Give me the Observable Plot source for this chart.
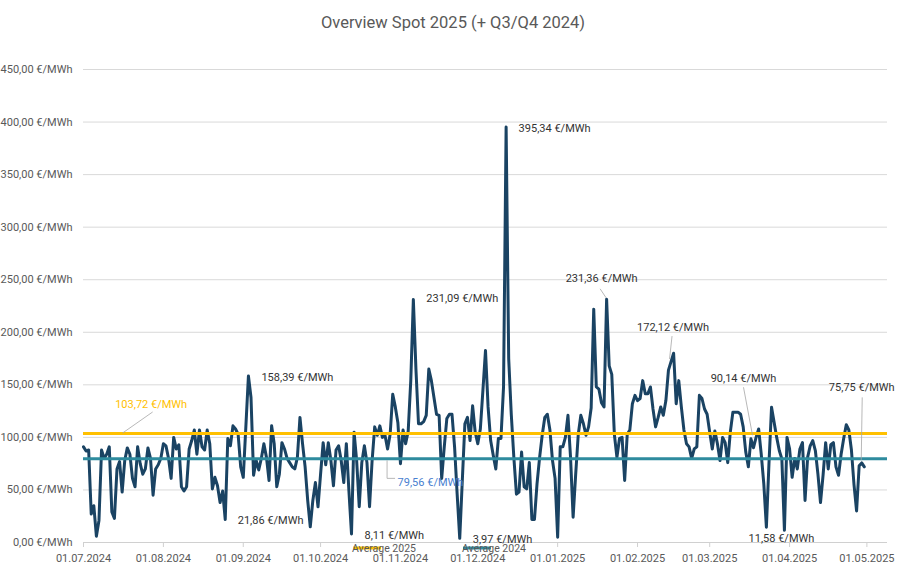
<!DOCTYPE html>
<html><head><meta charset="utf-8">
<script src="https://cdn.jsdelivr.net/npm/d3@7"></script>
<script src="https://cdn.jsdelivr.net/npm/@observablehq/plot@0.6"></script>
<style>
body{margin:0;background:#fff;font-family:Roboto,sans-serif;}
#chart{width:906px;height:569px;}
</style></head><body><div id="chart"></div>
<script>
// Daily spot prices (€/MWh), 01.07.2024 – 30.04.2025
const jul = [91, 87, 88, 27, 35, 6, 21, 88, 80, 84, 91, 29, 23, 70, 77, 48, 78, 90, 84, 61, 53, 91, 75, 65, 70, 90, 80, 45, 70, 74, 80];
const aug = [94, 92, 80, 61, 100, 89, 93, 53, 49, 53, 89, 97, 107, 84, 107, 91, 88, 107, 94, 51, 62, 54, 38, 49, 21.86, 99, 92, 111, 108, 103, 72];
const sep = [62, 110, 158.39, 138, 64, 78, 69, 80, 94, 81, 59, 111, 94, 53, 65, 95, 89, 80, 76, 72, 70, 81, 119, 94, 72, 40, 15, 40, 57, 34];
const oct = [65, 95, 74, 95, 78, 54, 88, 92, 78, 57, 94, 49, 8.11, 105, 78, 34, 76, 92, 76, 34, 78, 110, 102, 111, 100, 102, 89, 103, 141, 129, 114];
const nov = [75, 107, 94, 106, 154, 231.09, 165, 113, 113, 115, 121, 165, 154, 138, 122, 121, 61, 91, 118, 122, 122, 91, 46, 3.97, 59, 113, 119, 97, 130, 105];
const dec = [94, 108, 145, 182.7, 129, 97, 83, 70, 99, 99, 148, 395.34, 175, 122, 81, 46, 48, 86, 53, 51, 76, 22, 22, 56, 81, 102, 119, 122, 107, 78, 61];
const jan = [5, 91, 91, 100, 121, 81, 24, 65, 103, 121, 113, 102, 110, 128, 222, 148, 146, 133, 129, 231.36, 168, 160, 103, 81, 99, 100, 59, 103, 107, 132, 140];
const feb = [135, 137, 154, 141.5, 141.5, 148, 127, 110, 119, 129, 121, 135, 164, 172.12, 180, 132, 154, 129, 107, 94, 91, 80, 89, 91, 140, 137, 127, 122];
const mar = [105, 89, 106, 94, 78, 100, 95, 76, 105, 124, 124, 124, 122, 110, 86, 72, 98.6, 90.14, 100, 108, 84, 55.8, 14.6, 75, 128.7, 114.5, 100, 87.5, 79.6, 11.58, 100];
const apr = [89, 62, 80, 70, 89, 95, 40, 81, 92, 97, 87.5, 65, 38, 64, 95, 70, 93, 95, 72, 64, 84, 99, 112, 107, 88, 55, 30, 73, 75.75, 72];

const startDate = "2024-07-01";
const avg2025 = 103.72;
const avg2024 = 79.56;
const yTicks = [0, 50, 100, 150, 200, 250, 300, 350, 400, 450];
const xTicks = ["2024-07-01","2024-08-01","2024-09-01","2024-10-01","2024-11-01","2024-12-01","2025-01-01","2025-02-01","2025-03-01","2025-04-01","2025-05-01"];
const xDomain = ["2024-07-01", "2025-05-09"];
const labelDates = ["2024-09-03","2024-11-06","2024-12-12","2025-01-20","2025-02-14","2025-03-18","2025-04-29","2024-08-25","2024-10-13","2024-11-24","2025-03-30"];
const avgLabelDates = ["2024-07-16", "2024-10-27"];
const title = "Overview Spot 2025 (+ Q3/Q4 2024)";
const legendNames = ["Average 2025", "Average 2024"];

// layout (offsets in px)
const labelLayout = [
  {dx:13, dy:1.5, anchor:"start"},
  {dx:13, dy:-1, anchor:"start"},
  {dx:12.5, dy:1.5, anchor:"start"},
  {dx:-5, dy:-21, anchor:"middle", leader:[-6,-10,0,-1]},
  {dx:2, dy:-34, anchor:"middle", leader:[1.5,-25,-1,-2]},
  {dx:-10, dy:-69, anchor:"middle", leader:[-9.5,-60,-0.5,-12]},
  {dx:0, dy:-75, anchor:"middle", leader:[1,-65,0,-2]},
  {dx:12.5, dy:1, anchor:"start"},
  {dx:13, dy:1.5, anchor:"start"},
  {dx:13, dy:1, anchor:"start"},
  {dx:-3, dy:8, anchor:"middle"}
];

const C_LINE = "#1a4363", C_GOLD = "#FFC000", C_TEAL = "#2e8b9e", C_TEXT = "#595959";

const fmt = v => v.toFixed(2).replace(".", ",") + " €/MWh";
const parse = s => new Date(s + "T00:00:00Z");
const t0 = parse(startDate).getTime();
const series = [jul, aug, sep, oct, nov, dec, jan, feb, mar, apr].flat()
  .map((v, i) => ({date: new Date(t0 + i * 864e5), value: v}));
const byDate = new Map(series.map(d => [+d.date, d.value]));
const labels = labelDates.map(s => {
  const date = parse(s), value = byDate.get(+date);
  return {date, value, text: fmt(value)};
});
const avgLabels = [
  {date: parse(avgLabelDates[0]), value: avg2025, text: fmt(avg2025)},
  {date: parse(avgLabelDates[1]), value: avg2024, text: fmt(avg2024)}
];

const plot = Plot.plot({
  width: 906, height: 569,
  marginLeft: 83, marginRight: 19, marginTop: 69, marginBottom: 27,
  style: {fontFamily: "Roboto", fontSize: "11px", color: C_TEXT, background: "#fff", overflow: "visible"},
  x: {type: "utc", domain: xDomain.map(parse)},
  y: {domain: [0, 450]},
  marks: [
    Plot.gridY(yTicks, {stroke: "#d9d9d9", strokeOpacity: 1}),
    Plot.axisY(yTicks, {tickSize: 0, tickPadding: 11, tickFormat: fmt, fill: C_TEXT, fontSize: 11, label: null}),
    Plot.ruleY([0], {stroke: "#d0d0d0"}),
    Plot.axisX(xTicks.map(parse), {tickSize: 5, tickPadding: 7, stroke: "#d0d0d0", fill: C_TEXT, fontSize: 11,
      tickFormat: d3.utcFormat("%d.%m.%Y"), label: null}),
    Plot.lineY(series, {x: "date", y: "value", stroke: C_LINE, strokeWidth: 3, strokeLinejoin: "round"}),
    Plot.ruleY([avg2025], {stroke: C_GOLD, strokeWidth: 3}),
    Plot.ruleY([avg2024], {stroke: C_TEAL, strokeWidth: 3}),
    ...labels.map((d, i) => Plot.text([d], {x: "date", y: "value", text: "text",
      dx: labelLayout[i].dx, dy: labelLayout[i].dy, textAnchor: labelLayout[i].anchor, fill: "#333", fontSize: 11})),
    Plot.text([avgLabels[0]], {x: "date", y: "value", text: "text", dx: 29, dy: -29, textAnchor: "middle", fill: C_GOLD, fontSize: 11}),
    Plot.text([avgLabels[1]], {x: "date", y: "value", text: "text", dx: 10, dy: 23.5, textAnchor: "start", fill: "#4a7fd0", fontSize: 11})
  ]
});

document.getElementById("chart").appendChild(plot);
const svg = d3.select(plot);
const xs = plot.scale("x"), ys = plot.scale("y");
const g = svg.append("g").attr("fill", "none").attr("stroke", "#a6a6a6").attr("stroke-width", 0.8);
labels.forEach((d, i) => {
  const L = labelLayout[i].leader;
  if (!L) return;
  const px = xs.apply(d.date), py = ys.apply(d.value);
  g.append("line").attr("x1", px + L[0]).attr("y1", py + L[1]).attr("x2", px + L[2]).attr("y2", py + L[3]);
});
{
  const px = xs.apply(avgLabels[0].date), py = ys.apply(avgLabels[0].value);
  g.append("line").attr("x1", px + 31).attr("y1", py - 21).attr("x2", px + 1).attr("y2", py);
  const qx = xs.apply(avgLabels[1].date), qy = ys.apply(avgLabels[1].value);
  g.append("path").attr("d", `M${qx},${qy + 2}V${qy + 20}H${qx + 8}`);
}
// title
svg.append("text").attr("x", 453).attr("y", 28).attr("text-anchor", "middle")
  .attr("font-family", "Roboto").attr("font-size", 16.5).attr("fill", C_TEXT).text(title);
// legend
const leg = svg.append("g").attr("font-family", "Roboto").attr("font-size", 10.5).attr("fill", C_TEXT);
[[353, C_GOLD, legendNames[0]], [463, C_TEAL, legendNames[1]]].forEach(([x, c, t]) => {
  leg.append("line").attr("x1", x).attr("x2", x + 28).attr("y1", 548).attr("y2", 548).attr("stroke", c).attr("stroke-width", 3);
  leg.append("text").attr("x", x + 31).attr("y", 551.5).text(t);
});
</script></body></html>
